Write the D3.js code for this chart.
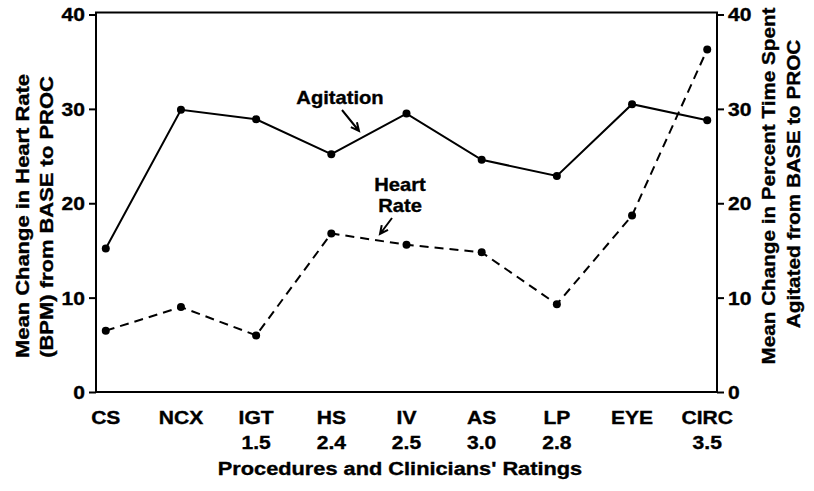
<!DOCTYPE html>
<html>
<head>
<meta charset="utf-8">
<script src="https://cdn.jsdelivr.net/npm/d3@7"></script>
<style>
  html, body { margin: 0; padding: 0; background: #fff; }
  svg { display: block; }
  text { font-family: "Liberation Sans", Arial, Helvetica, sans-serif; font-weight: bold; fill: #000; stroke: #000; stroke-width: 0.35px; }
</style>
</head>
<body>
<script>
// ---- data ----
const categories = ["CS", "NCX", "IGT", "HS", "IV", "AS", "LP", "EYE", "CIRC"];
const ratings = ["", "", "1.5", "2.4", "2.5", "3.0", "2.8", "", "3.5"];
const heartRate = [6.5, 9.0, 6.0, 16.8, 15.6, 14.8, 9.3, 18.7, 36.3];
const agitation = [15.2, 29.9, 28.9, 25.2, 29.5, 24.6, 22.9, 30.5, 28.8];
const leftTicks = [0, 10, 20, 30, 40];
const rightTicks = [0, 10, 20, 30, 40];

// ---- layout ----
const W = 814, H = 491;
const M = { left: 96, right: 717, top: 14.5, bottom: 392 };
const SX = 1.17;   // horizontal stretch of the lettering
const FS = 18;

const svg = d3.select("body").append("svg").attr("width", W).attr("height", H);

const x = d3.scalePoint().domain(categories).range([M.left, M.right]).padding(0.13);
const yL = d3.scaleLinear().domain([0, 40]).range([M.bottom, M.top]);
const yR = d3.scaleLinear().domain([0, 40]).range([M.bottom, M.top]);

function label(g, px, py, str, opts = {}) {
  const t = g.append("text")
    .attr("transform", `translate(${px},${py})${opts.rotate ? ` rotate(${opts.rotate})` : ""} scale(${opts.sx || SX},1)`)
    .attr("text-anchor", opts.anchor || "middle")
    .attr("font-size", opts.fs || FS)
    .text(str);
  return t;
}

// frame
svg.append("rect")
  .attr("x", M.left).attr("y", M.top - 2)
  .attr("width", M.right - M.left).attr("height", M.bottom - M.top + 2)
  .attr("fill", "none").attr("stroke", "#000").attr("stroke-width", 2);

// left axis
const gL = svg.append("g").attr("transform", `translate(${M.left},0)`)
  .call(d3.axisLeft(yL).tickValues(leftTicks).tickSize(7).tickPadding(4));
gL.select(".domain").remove();
gL.selectAll(".tick line").attr("stroke", "#000").attr("stroke-width", 2);
gL.selectAll(".tick text")
  .attr("font-size", FS).attr("font-family", null)
  .attr("x", -11 / SX).attr("dy", "0.36em")
  .attr("transform", `scale(${SX},1)`);

// right axis
const gR = svg.append("g").attr("transform", `translate(${M.right},0)`)
  .call(d3.axisRight(yR).tickValues(rightTicks).tickSize(7).tickPadding(4));
gR.select(".domain").remove();
gR.selectAll(".tick line").attr("stroke", "#000").attr("stroke-width", 2);
gR.selectAll(".tick text")
  .attr("font-size", FS).attr("font-family", null)
  .attr("x", 11 / SX).attr("dy", "0.36em")
  .attr("transform", `scale(${SX},1)`);

// x labels
const gX = svg.append("g");
categories.forEach((c, i) => {
  label(gX, x(c), 424, c);
  if (ratings[i]) label(gX, x(c), 449, ratings[i]);
});
label(svg, 400, 474.5, "Procedures and Clinicians' Ratings", { sx: 1.21 });

// axis titles
label(svg, 29, 216, "Mean Change in Heart Rate", { rotate: -90, sx: 1.22 });
label(svg, 53, 217, "(BPM) from BASE to PROC", { rotate: -90, sx: 1.22 });
label(svg, 775, 186, "Mean Change in Percent Time Spent", { rotate: -90, sx: 1.15 });
label(svg, 800, 184, "Agitated from BASE to PROC", { rotate: -90, sx: 1.15 });

// lines
const lineL = d3.line().x((d, i) => x(categories[i])).y(d => yL(d));
const lineR = d3.line().x((d, i) => x(categories[i])).y(d => yR(d));

svg.append("path").datum(agitation)
  .attr("d", lineR).attr("fill", "none").attr("stroke", "#000").attr("stroke-width", 2);
svg.append("path").datum(heartRate)
  .attr("d", lineL).attr("fill", "none").attr("stroke", "#000").attr("stroke-width", 2)
  .attr("stroke-dasharray", "9,6");

svg.append("g").selectAll("circle").data(agitation).join("circle")
  .attr("cx", (d, i) => x(categories[i])).attr("cy", d => yR(d)).attr("r", 4).attr("fill", "#000");
svg.append("g").selectAll("circle").data(heartRate).join("circle")
  .attr("cx", (d, i) => x(categories[i])).attr("cy", d => yL(d)).attr("r", 4).attr("fill", "#000");

// annotations
function arrow(x1, y1, x2, y2) {
  const a = Math.atan2(y2 - y1, x2 - x1), L = 9, s = 0.45;
  const p = d3.path();
  p.moveTo(x1, y1); p.lineTo(x2, y2);
  p.moveTo(x2 - L * Math.cos(a - s), y2 - L * Math.sin(a - s));
  p.lineTo(x2, y2);
  p.lineTo(x2 - L * Math.cos(a + s), y2 - L * Math.sin(a + s));
  svg.append("path").attr("d", p.toString()).attr("fill", "none")
    .attr("stroke", "#000").attr("stroke-width", 2);
}
label(svg, 340, 104, "Agitation", { sx: 1.12 });
arrow(342, 110, 359, 131);
label(svg, 400, 191, "Heart", { sx: 1.12 });
label(svg, 400, 212, "Rate", { sx: 1.12 });
arrow(392, 218, 380, 234);
</script>
</body>
</html>
